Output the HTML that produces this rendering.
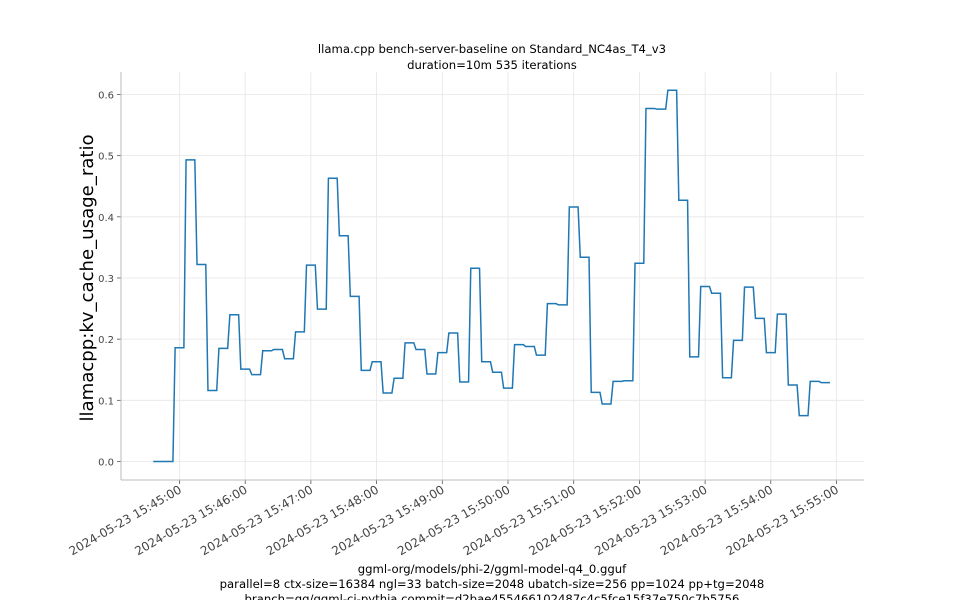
<!DOCTYPE html>
<html><head><meta charset="utf-8"><style>
html,body{margin:0;padding:0;background:#fff;}
svg{display:block;font-family:"DejaVu Sans","Liberation Sans",sans-serif;}
</style></head><body>
<svg id="chart" width="960" height="600" viewBox="0 0 960 600">
<text x="492" y="53" font-size="11.65" text-anchor="middle" fill="#000">llama.cpp bench-server-baseline on Standard_NC4as_T4_v3</text>
<text x="492" y="69" font-size="11.65" text-anchor="middle" fill="#000">duration=10m 535 iterations</text>
<g id="grid"></g>
<g id="axes"></g>
<polyline id="line" fill="none" stroke="#1f77b4" stroke-width="1.5"/>
<text transform="translate(93,278) rotate(-90)" font-size="18.1" text-anchor="middle" fill="#000">llamacpp:kv_cache_usage_ratio</text>
<text x="492" y="573" font-size="11.65" text-anchor="middle" fill="#000">ggml-org/models/phi-2/ggml-model-q4_0.gguf</text>
<text x="492" y="588" font-size="11.65" text-anchor="middle" fill="#000">parallel=8 ctx-size=16384 ngl=33 batch-size=2048 ubatch-size=256 pp=1024 pp+tg=2048</text>
<text x="492" y="603" font-size="11.65" text-anchor="middle" fill="#000">branch=gg/ggml-ci-pythia commit=d2bae455466102487c4c5fce15f37e750c7b5756</text>
</svg>
<script>
const times = [-24,-14,-4,6,16,26,36,46,56,66,76,86,96,106,116,126,136,146,156,166,176,186,196,206,216,226,236,246,256,266,276,286,296,306,316,326,336,346,356,366,376,386,396,406,416,426,436,446,456,466,476,486,496,506,516,526,536,546,556,566,576,586];
const values = [0,0,0.186,0.493,0.322,0.116,0.185,0.240,0.151,0.142,0.181,0.183,0.168,0.212,0.321,0.249,0.463,0.369,0.270,0.149,0.163,0.112,0.136,0.194,0.183,0.143,0.178,0.210,0.130,0.316,0.163,0.146,0.120,0.191,0.188,0.174,0.258,0.256,0.416,0.334,0.113,0.094,0.131,0.132,0.324,0.577,0.576,0.607,0.427,0.171,0.286,0.275,0.137,0.198,0.285,0.234,0.178,0.241,0.125,0.075,0.131,0.129];
const yTicks = [0.0,0.1,0.2,0.3,0.4,0.5,0.6];
const xTickMinutes = [0,1,2,3,4,5,6,7,8,9,10];
const xTickLabels = ["2024-05-23 15:45:00","2024-05-23 15:46:00","2024-05-23 15:47:00","2024-05-23 15:48:00","2024-05-23 15:49:00","2024-05-23 15:50:00","2024-05-23 15:51:00","2024-05-23 15:52:00","2024-05-23 15:53:00","2024-05-23 15:54:00","2024-05-23 15:55:00"];
const HOLD = 8;
const L=121,R=864,T=72,B=480;
const xs = s => 179.5 + s*65.7/60;
const ys = v => 461.5 - v*611.7;
const NS="http://www.w3.org/2000/svg";
const grid=document.getElementById('grid'), axes=document.getElementById('axes');
function mk(tag,attrs,parent){const e=document.createElementNS(NS,tag);for(const k in attrs)e.setAttribute(k,attrs[k]);parent.appendChild(e);return e;}
yTicks.forEach(v=>{
  const y=ys(v);
  const g=mk('line',{x1:L,x2:R,y1:y,y2:y,stroke:'#e6e6e6','stroke-width':0.8},grid);
  
  
  const tk=mk('line',{x1:L-4,x2:L,y1:y,y2:y,stroke:'#555','stroke-width':0.8},axes);
  
  
  const t=mk('text',{x:L-7,y:y+4,'font-size':10,'text-anchor':'end',fill:'#444'},axes);
  t.textContent=v.toFixed(1);
  
  
});
xTickMinutes.forEach((m,i)=>{
  const x=xs(m*60);
  const g=mk('line',{x1:x,x2:x,y1:T,y2:B,stroke:'#e6e6e6','stroke-width':0.8},grid);
  
  
  const tk=mk('line',{x1:x,x2:x,y1:B,y2:B+4,stroke:'#555','stroke-width':0.8},axes);
  
  
  const t=mk('text',{transform:`translate(${x+3},${B+12}) rotate(-30)`,'font-size':12,'text-anchor':'end',fill:'#444'},axes);
  t.textContent=xTickLabels[i];
  
  
});
const sl=mk('line',{x1:L,x2:L,y1:T,y2:B,stroke:'#bbb','stroke-width':1},axes);


const sb=mk('line',{x1:L,x2:R,y1:B,y2:B,stroke:'#bbb','stroke-width':1},axes);


const pts=[];
times.forEach((t,i)=>{pts.push(xs(t)+','+ys(values[i]));pts.push(xs(t+HOLD)+','+ys(values[i]));});
document.getElementById('line').setAttribute('points',pts.join(' '));
</script>
</body></html>
